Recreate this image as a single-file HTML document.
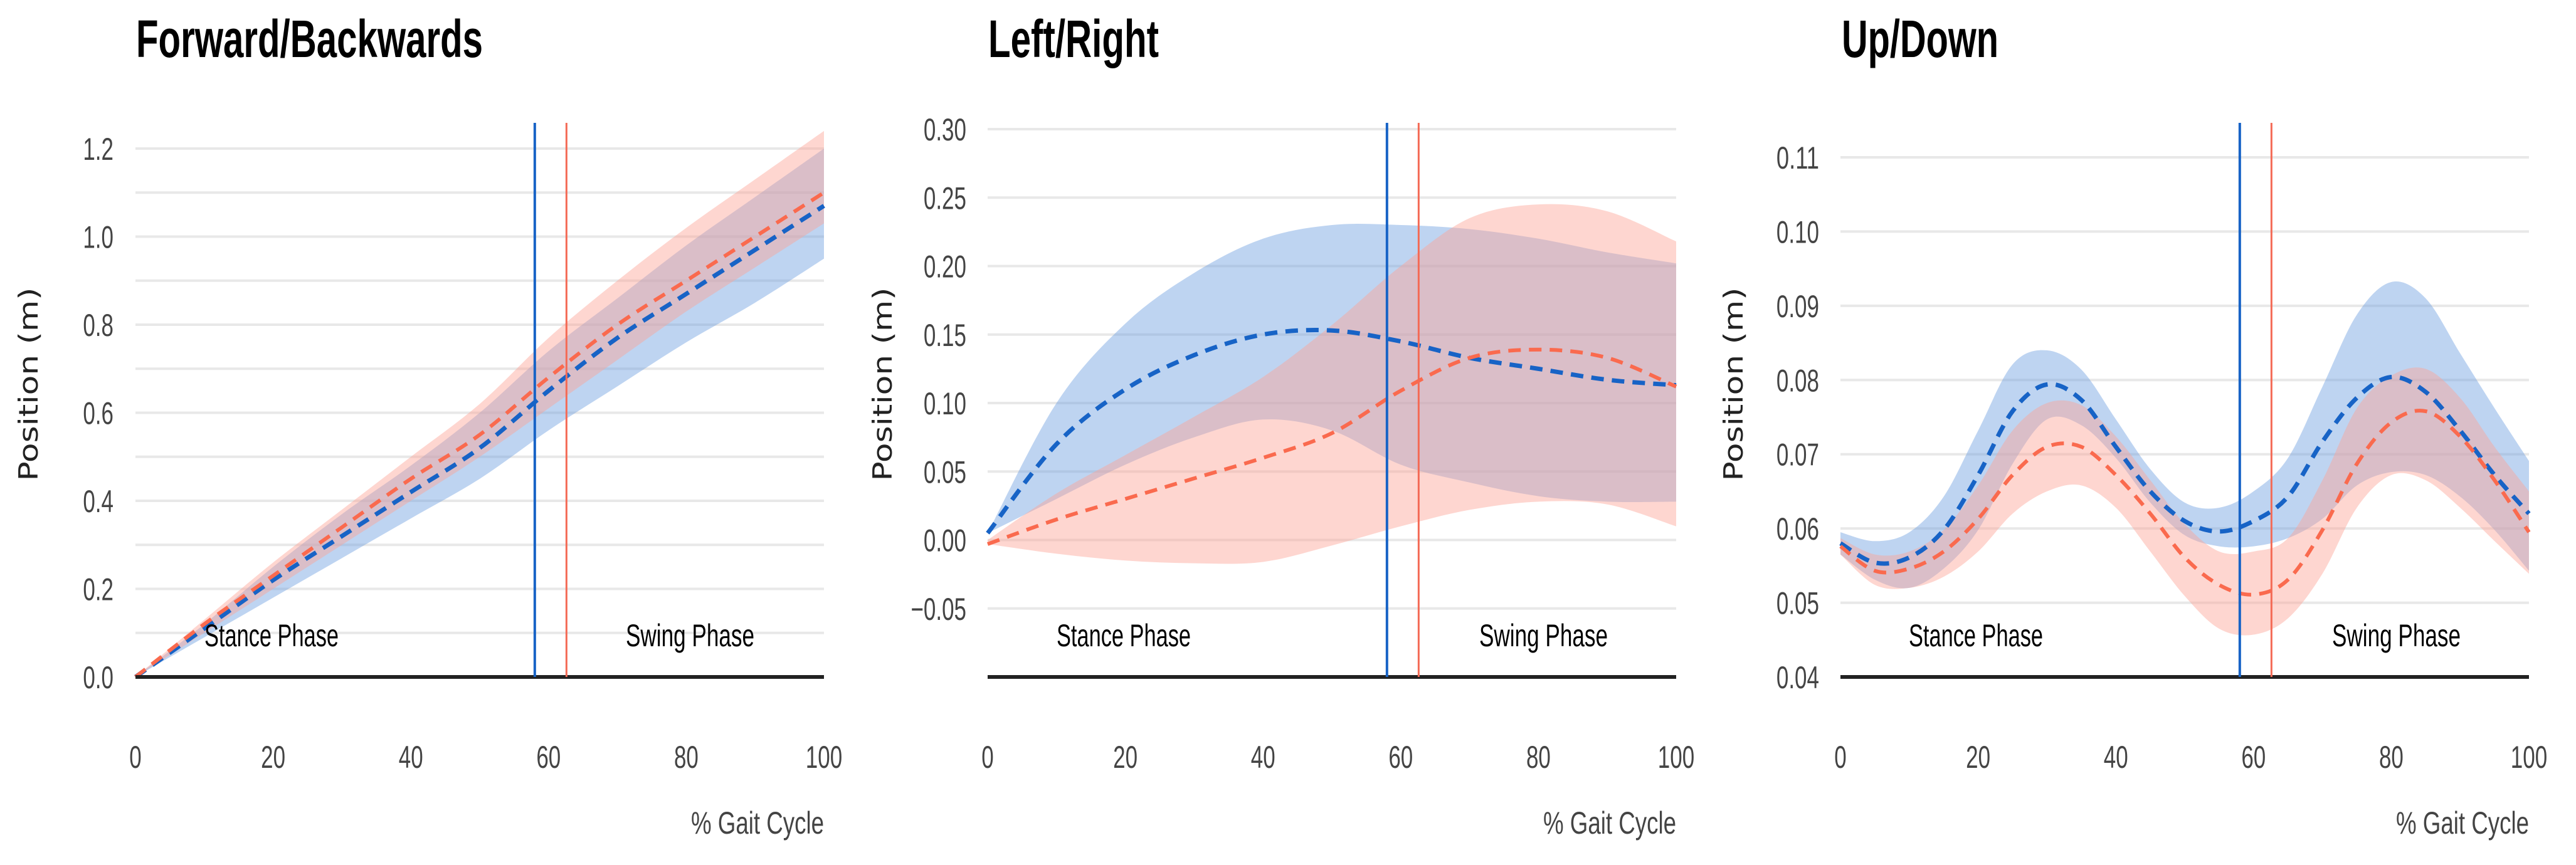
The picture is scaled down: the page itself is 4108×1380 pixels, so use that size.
<!DOCTYPE html>
<html><head><meta charset="utf-8"><style>
html,body{margin:0;padding:0;background:#fff;width:4108px;height:1380px;overflow:hidden}
svg{display:block}
text{font-family:"Liberation Sans Narrow","Liberation Sans",sans-serif}
</style></head><body>
<svg id="chart" width="4108" height="1380" viewBox="0 0 4108 1380" xmlns="http://www.w3.org/2000/svg"></svg>
<script>
// ---------- data ----------
const xs10 = [0,10,20,30,40,50,60,70,80,90,100];
const xs5 = [0,5,10,15,20,25,30,35,40,45,50,55,60,65,70,75,80,85,90,95,100];

// Forward/Backwards
const fbBlueMean  = [0,0.11,0.22,0.32,0.42,0.52,0.65,0.77,0.87,0.97,1.07];
const fbBlueLow   = [0,0.09,0.18,0.27,0.36,0.45,0.56,0.66,0.76,0.85,0.95];
const fbBlueHigh  = [0,0.12,0.25,0.37,0.48,0.60,0.74,0.86,0.98,1.09,1.20];
const fbRedMean   = [0,0.12,0.23,0.34,0.45,0.55,0.68,0.80,0.90,1.00,1.10];
const fbRedLow    = [0,0.10,0.20,0.30,0.40,0.50,0.61,0.72,0.83,0.93,1.03];
const fbRedHigh   = [0,0.13,0.26,0.38,0.50,0.62,0.77,0.90,1.02,1.13,1.24];
const fbTicks = ["0.0","0.2","0.4","0.6","0.8","1.0","1.2"];

// Left/Right
const lrBlueMean  = [0.005,0.07,0.11,0.135,0.15,0.153,0.145,0.133,0.125,0.117,0.113];
const lrBlueHigh  = [0.005,0.10,0.158,0.195,0.22,0.23,0.23,0.227,0.22,0.21,0.202];
const lrBlueLow   = [0.005,0.03,0.055,0.075,0.088,0.08,0.055,0.042,0.032,0.028,0.028];
const lrRedMean   = [-0.003,0.015,0.03,0.045,0.06,0.078,0.109,0.133,0.139,0.133,0.112];
const lrRedHigh   = [0,0.034,0.062,0.09,0.119,0.157,0.20,0.235,0.245,0.24,0.218];
const lrRedLow    = [-0.003,-0.01,-0.015,-0.017,-0.016,-0.004,0.01,0.022,0.028,0.026,0.01];
const lrTicks = ["\u22120.05","0.00","0.05","0.10","0.15","0.20","0.25","0.30"];

// Up/Down
const udBlueMean = [0.058,0.0554,0.0561,0.0598,0.0672,0.0758,0.0794,0.0773,0.071,0.065,0.061,0.0596,0.061,0.0643,0.0717,0.0776,0.0804,0.0784,0.0732,0.0672,0.062];
const udRedMean  = [0.0576,0.0543,0.0546,0.0569,0.0613,0.0672,0.071,0.071,0.0672,0.062,0.0561,0.0524,0.0511,0.0531,0.0598,0.0687,0.0743,0.0758,0.0724,0.0665,0.0595];
const udBlueHigh = [0.0595,0.0583,0.0595,0.0643,0.0732,0.0821,0.084,0.0814,0.0747,0.068,0.0635,0.0628,0.065,0.0695,0.0791,0.0888,0.0932,0.091,0.0836,0.0762,0.0691];
const udBlueLow  = [0.0565,0.0531,0.052,0.0546,0.0598,0.0687,0.0747,0.0739,0.0695,0.0635,0.0591,0.0576,0.0576,0.0587,0.0613,0.0658,0.0676,0.0672,0.0643,0.0598,0.0543];
const udRedHigh  = [0.0587,0.0565,0.0569,0.0598,0.0658,0.0732,0.0769,0.0766,0.0724,0.0665,0.0606,0.0569,0.0569,0.0587,0.0665,0.0762,0.0806,0.0815,0.0776,0.071,0.065];
const udRedLow   = [0.0565,0.0524,0.052,0.0535,0.0569,0.062,0.065,0.0658,0.0628,0.0569,0.0509,0.0465,0.0457,0.0479,0.0539,0.0628,0.0672,0.0665,0.0628,0.0583,0.0539];
const udTicks = ["0.04","0.05","0.06","0.07","0.08","0.09","0.10","0.11"];

const xTicks = [0,20,40,60,80,100];
const phaseBlue = 58;
const phaseRed = 62.6;

// ---------- drawing ----------
const NS = "http://www.w3.org/2000/svg";
const svg = document.getElementById('chart');
function el(tag, attrs, parent, txt){
  const e = document.createElementNS(NS, tag);
  for (const k in attrs) e.setAttribute(k, attrs[k]);
  if (txt !== undefined) e.textContent = txt;
  (parent||svg).appendChild(e);
  return e;
}
function numWidth(s, fs){
  let w = 0;
  for (const c of s){ w += (c==='.') ? 0.278 : (c==='\u2212' ? 0.584 : 0.556); }
  return w*fs*0.7;
}
function curveSegs(pts){
  let d = "";
  for (let i=0;i<pts.length-1;i++){
    const p0=pts[Math.max(0,i-1)],p1=pts[i],p2=pts[i+1],p3=pts[Math.min(pts.length-1,i+2)];
    const c1=[p1[0]+(p2[0]-p0[0])/6,p1[1]+(p2[1]-p0[1])/6];
    const c2=[p2[0]-(p3[0]-p1[0])/6,p2[1]-(p3[1]-p1[1])/6];
    d+=" C"+c1[0]+","+c1[1]+" "+c2[0]+","+c2[1]+" "+p2[0]+","+p2[1];
  }
  return d;
}
function smooth(pts){ return "M"+pts[0][0]+","+pts[0][1]+curveSegs(pts); }
function band(xsArr, lo, hi, X, Y){
  const up = xsArr.map((x,i)=>[X(x),Y(hi[i])]);
  const dn = xsArr.map((x,i)=>[X(x),Y(lo[i])]).reverse();
  return smooth(up) + " L"+dn[0][0]+","+dn[0][1] + curveSegs(dn) + " Z";
}

function panel(cfg){
  const g = el('g', {});
  
  
  const X = v => cfg.left + (v/100)*(cfg.right-cfg.left);
  const Y = v => cfg.y0px - (v-cfg.ymin)/(cfg.ymax-cfg.ymin)*(cfg.y0px-cfg.y1px);

  const t = el('text', {x:cfg.titleX, y:91, 'font-size':84, 'font-weight':'bold', fill:'#000', textLength:cfg.titleW, lengthAdjust:'spacingAndGlyphs', style:'font-family:"Liberation Sans",sans-serif'}, g, cfg.title);
  
  

  for (let v=cfg.gridStart; v<=cfg.ymaxGrid+1e-9; v+=cfg.gridStep){
    const gl = el('line', {x1:cfg.left, x2:cfg.right, y1:Y(v), y2:Y(v), stroke:'#e8e8e8', 'stroke-width':4}, g);
    
    
  }
  cfg.ticks.forEach(s=>{
    const v = parseFloat(s.replace('\u2212','-'));
    const tl = el('text', {x:cfg.tickRight, y:Y(v)+18, 'font-size':50, fill:'#444', 'text-anchor':'end', textLength:numWidth(s,50), lengthAdjust:'spacingAndGlyphs'}, g, s);
    
    
  });
  const bb = el('path', {d:band(cfg.xs, cfg.bLow, cfg.bHigh, X, Y), fill:'rgb(110,160,225)', 'fill-opacity':0.45}, g);
  
  
  const rb = el('path', {d:band(cfg.xs, cfg.rLow, cfg.rHigh, X, Y), fill:'rgb(252,165,150)', 'fill-opacity':0.45}, g);
  
  
  const bm = el('path', {d:smooth(cfg.xs.map((x,i)=>[X(x),Y(cfg.bMean[i])])), fill:'none', stroke:'#1763c6', 'stroke-width':7, 'stroke-dasharray':'20 13'}, g);
  
  
  const rm = el('path', {d:smooth(cfg.xs.map((x,i)=>[X(x),Y(cfg.rMean[i])])), fill:'none', stroke:'#fa6a4e', 'stroke-width':6, 'stroke-dasharray':'20 13'}, g);
  
  
  const base = el('line', {x1:cfg.left, x2:cfg.right, y1:cfg.y0px, y2:cfg.y0px, stroke:'#222', 'stroke-width':6}, g);
  
  
  const vb = el('line', {x1:X(phaseBlue), x2:X(phaseBlue), y1:196, y2:cfg.y0px, stroke:'#1763c6', 'stroke-width':4}, g);
  
  
  const vr = el('line', {x1:X(phaseRed), x2:X(phaseRed), y1:196, y2:cfg.y0px, stroke:'#f46a55', 'stroke-width':3}, g);
  
  
  const st = el('text', {x:cfg.stanceX, y:1031, 'font-size':50, fill:'#000', textLength:214, lengthAdjust:'spacingAndGlyphs'}, g, 'Stance Phase');
  
  
  const sw = el('text', {x:cfg.swingX, y:1031, 'font-size':50, fill:'#000', textLength:205, lengthAdjust:'spacingAndGlyphs'}, g, 'Swing Phase');
  
  
  xTicks.forEach(v=>{
    const s = String(v);
    const xl = el('text', {x:X(v), y:1225, 'font-size':50, fill:'#444', 'text-anchor':'middle', textLength:numWidth(s,50), lengthAdjust:'spacingAndGlyphs'}, g, s);
    
    
  });
  const xt = el('text', {x:cfg.right, y:1330, 'font-size':50, fill:'#444', 'text-anchor':'end', textLength:212, lengthAdjust:'spacingAndGlyphs'}, g, '% Gait Cycle');
  
  
  const yt = el('text', {x:0, y:0, 'font-size':42, fill:'#222', 'text-anchor':'middle', textLength:309, lengthAdjust:'spacingAndGlyphs', transform:'translate('+(cfg.yTitleX+15)+',613) rotate(-90)', style:'font-family:"DejaVu Sans",sans-serif'}, g, 'Position (m)');
  
  
}

panel({name:'forward-backwards-chart', title:'Forward/Backwards', titleX:217, titleW:553,
  left:216, right:1314, ymin:0, ymax:1.2, y0px:1080, y1px:237, gridStart:0.1, gridStep:0.1, ymaxGrid:1.2,
  ticks:fbTicks, tickRight:181, xs:xs10, bMean:fbBlueMean, bLow:fbBlueLow, bHigh:fbBlueHigh,
  rMean:fbRedMean, rLow:fbRedLow, rHigh:fbRedHigh, stanceX:326, swingX:998, yTitleX:45});

panel({name:'left-right-chart', title:'Left/Right', titleX:1576, titleW:272,
  left:1575, right:2673, ymin:-0.1, ymax:0.30, y0px:1080, y1px:206, gridStart:-0.05, gridStep:0.05, ymaxGrid:0.30,
  ticks:lrTicks, tickRight:1541, xs:xs10, bMean:lrBlueMean, bLow:lrBlueLow, bHigh:lrBlueHigh,
  rMean:lrRedMean, rLow:lrRedLow, rHigh:lrRedHigh, stanceX:1685, swingX:2359, yTitleX:1407});

panel({name:'up-down-chart', title:'Up/Down', titleX:2937, titleW:250,
  left:2935, right:4033, ymin:0.04, ymax:0.11, y0px:1080, y1px:251, gridStart:0.05, gridStep:0.01, ymaxGrid:0.1101,
  ticks:udTicks, tickRight:2901, xs:xs5, bMean:udBlueMean, bLow:udBlueLow, bHigh:udBlueHigh,
  rMean:udRedMean, rLow:udRedLow, rHigh:udRedHigh, stanceX:3044, swingX:3719, yTitleX:2764});
</script>
</body></html>
